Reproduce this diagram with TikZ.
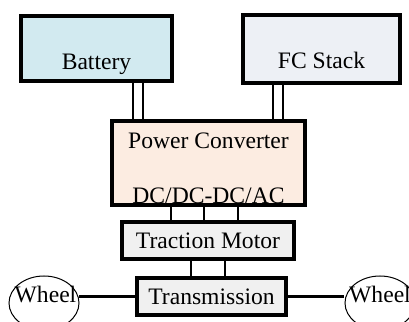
\documentclass[tikz,border=0pt]{standalone}
\usepackage{fontspec}
\setmainfont{Liberation Serif}
\usepackage{tikz}
\usetikzlibrary{shapes.geometric}
\definecolor{battfill}{RGB}{210,234,240}
\definecolor{fcfill}{RGB}{237,240,245}
\definecolor{convfill}{RGB}{252,236,225}
\definecolor{motfill}{RGB}{240,240,240}

\begin{document}
\begin{tikzpicture}[x=0.5pt, y=-0.5pt, font=\fontsize{11.8}{14}\selectfont,
	block/.style={draw, line width=1.6pt, inner sep=0pt},
	wire/.style={line width=1.2pt},
	wheel/.style={draw, ellipse, line width=0.5pt, inner sep=0pt, minimum width=35pt, minimum height=27pt}]
			
	\useasboundingbox (0,0) rectangle (409,322);
			
			% sources
			\node[block, fill=battfill, minimum width=75.5pt, minimum height=32.5pt] (bat) at (96.5,48.5) {};
			\node[anchor=base] (bat-txt) at (96.5,69) {Battery};
			\node[block, fill=fcfill, minimum width=78.5pt, minimum height=34pt] (fc) at (321.5,49) {};
			\node[anchor=base] (fc-txt) at (321.5,68) {FC Stack};
			
			% converter
			\node[block, fill=convfill, minimum width=96.5pt, minimum height=42pt] (conv) at (208.5,163) {};
			\node[anchor=base] (conv-txt) at (208.5,148) {Power Converter};
			\node[anchor=base] (conv-typ) at (208.5,203) {DC/DC-DC/AC};
			
			% drive train
			\node[block, fill=motfill, minimum width=86pt, minimum height=18.5pt] (mot) at (208,240.5) {Traction Motor};
			\node[block, fill=motfill, minimum width=74.5pt, minimum height=18.5pt] (trans) at (211.5,296.5) {Transmission};
			
			\node[wheel] (lwheel) at (44,303) {};
			\node[anchor=base] (lwheel-txt) at (45.5,302) {Wheel};
			\node[wheel] (rwheel) at (380,303) {};
			\node[anchor=base] (rwheel-txt) at (380,302) {Wheel};
			
			% connections
			\foreach \x in {133,143}
				\draw[wire] (\x,0 |- bat.south) -- (\x,0 |- conv.north);
			\foreach \x in {273,283}
				\draw[wire] (\x,0 |- fc.south) -- (\x,0 |- conv.north);
			\foreach \x in {171,204,238}
				\draw[wire] (\x,0 |- conv.south) -- (\x,0 |- mot.north);
			\foreach \x in {191,225}
				\draw[wire] (\x,0 |- mot.south) -- (\x,0 |- trans.north);
			
			\draw[wire] (trans.west) -- (trans.west -| lwheel.east);
			\draw[wire] (trans.east) -- (trans.east -| rwheel.west);
			
\end{tikzpicture}
\end{document}
